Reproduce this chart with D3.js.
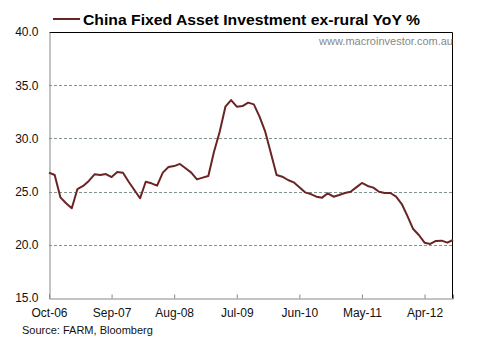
<!DOCTYPE html>
<html><head><meta charset="utf-8">
<script src="https://cdn.jsdelivr.net/npm/d3@7"></script>
<style>body{margin:0;background:#fff}svg{display:block}</style>
</head><body>
<script>
const startMonth = "Oct-06";
const values = [26.78,26.56,24.46,23.9,23.43,25.24,25.53,26.0,26.62,26.56,26.65,26.37,26.84,26.78,25.93,25.15,24.37,25.93,25.78,25.56,26.78,27.31,27.4,27.6,27.19,26.78,26.15,26.31,26.47,28.75,30.63,32.98,33.6,32.98,33.04,33.36,33.2,32.04,30.63,28.6,26.56,26.4,26.09,25.87,25.4,24.93,24.77,24.52,24.43,24.84,24.52,24.68,24.87,24.99,25.4,25.81,25.53,25.37,24.99,24.87,24.87,24.52,23.83,22.7,21.48,20.92,20.2,20.08,20.36,20.39,20.2,20.45];
const xTickLabels = ["Oct-06","Sep-07","Aug-08","Jul-09","Jun-10","May-11","Apr-12"];
const xTickIndex = [0,11,22,33,44,55,66];
const yTicks = [15,20,25,30,35,40];
const title = "China Fixed Asset Investment ex-rural YoY %";
const watermark = "www.macroinvestor.com.au";
const source = "Source: FARM, Bloomberg";

const W=484,H=345;
const m={l:49,r:31,t:32,b:47};
const svg=d3.select("body").append("svg").attr("width",W).attr("height",H);
const x=d3.scaleLinear().domain([0,values.length-1]).range([m.l,W-m.r]);
const y=d3.scaleLinear().domain([15,40]).range([H-m.b,m.t]);
const font="'Liberation Sans', Arial, sans-serif";

// gridlines
svg.append("g").selectAll("line").data(yTicks.filter(d=>d>15&&d<40)).join("line")
 .attr("x1",m.l).attr("x2",W-m.r).attr("y1",d=>Math.round(y(d))+0.5).attr("y2",d=>Math.round(y(d))+0.5)
 .attr("stroke","#7f9490").attr("stroke-width",1).attr("stroke-dasharray","3,2");

// borders
const x0=m.l+0.5, x1=W-m.r-0.5, yt=Math.round(y(40))+0.5, yb=Math.round(y(15))+0.5;
svg.append("line").attr("x1",x0).attr("x2",x1).attr("y1",yt).attr("y2",yt).attr("stroke","#000");
svg.append("line").attr("x1",x1).attr("x2",x1).attr("y1",yt).attr("y2",yb).attr("stroke","#000");

// y axis
const yAx=svg.append("g").attr("transform",`translate(${x0},0)`)
 .call(d3.axisLeft(y).tickValues(yTicks).tickFormat(d3.format(".1f")).tickSize(0).tickPadding(11));
yAx.select(".domain").attr("stroke","#888");
yAx.selectAll("text").attr("font-family",font).attr("font-size",12).attr("fill","#111");

// x axis
const xAx=svg.append("g").attr("transform",`translate(0,${yb})`)
 .call(d3.axisBottom(x).tickValues(xTickIndex).tickFormat((d,i)=>xTickLabels[i]).tickSize(-4).tickPadding(10));
xAx.select(".domain").attr("stroke","#888");
xAx.selectAll(".tick line").attr("stroke","#888");
xAx.selectAll("text").attr("font-family",font).attr("font-size",12).attr("fill","#111");

// line
svg.append("path").datum(values).attr("fill","none").attr("stroke","#6b2424").attr("stroke-width",2)
 .attr("stroke-linejoin","round")
 .attr("d",d3.line().x((d,i)=>x(i)).y(d=>y(d)));

// legend/title
svg.append("line").attr("x1",53).attr("x2",80).attr("y1",19).attr("y2",19).attr("stroke","#6b2424").attr("stroke-width",2);
svg.append("text").attr("x",83).attr("y",25).attr("font-family",font).attr("font-weight","bold").attr("font-size",15)
 .attr("fill","#000").attr("textLength",337).attr("lengthAdjust","spacingAndGlyphs").text(title);

svg.append("text").attr("x",W-m.r).attr("y",45).attr("text-anchor","end").attr("font-family",font)
 .attr("font-size",11).attr("fill","#888").text(watermark);
svg.append("text").attr("x",22).attr("y",334).attr("font-family",font).attr("font-size",11).attr("fill","#111").text(source);
</script>
</body></html>
